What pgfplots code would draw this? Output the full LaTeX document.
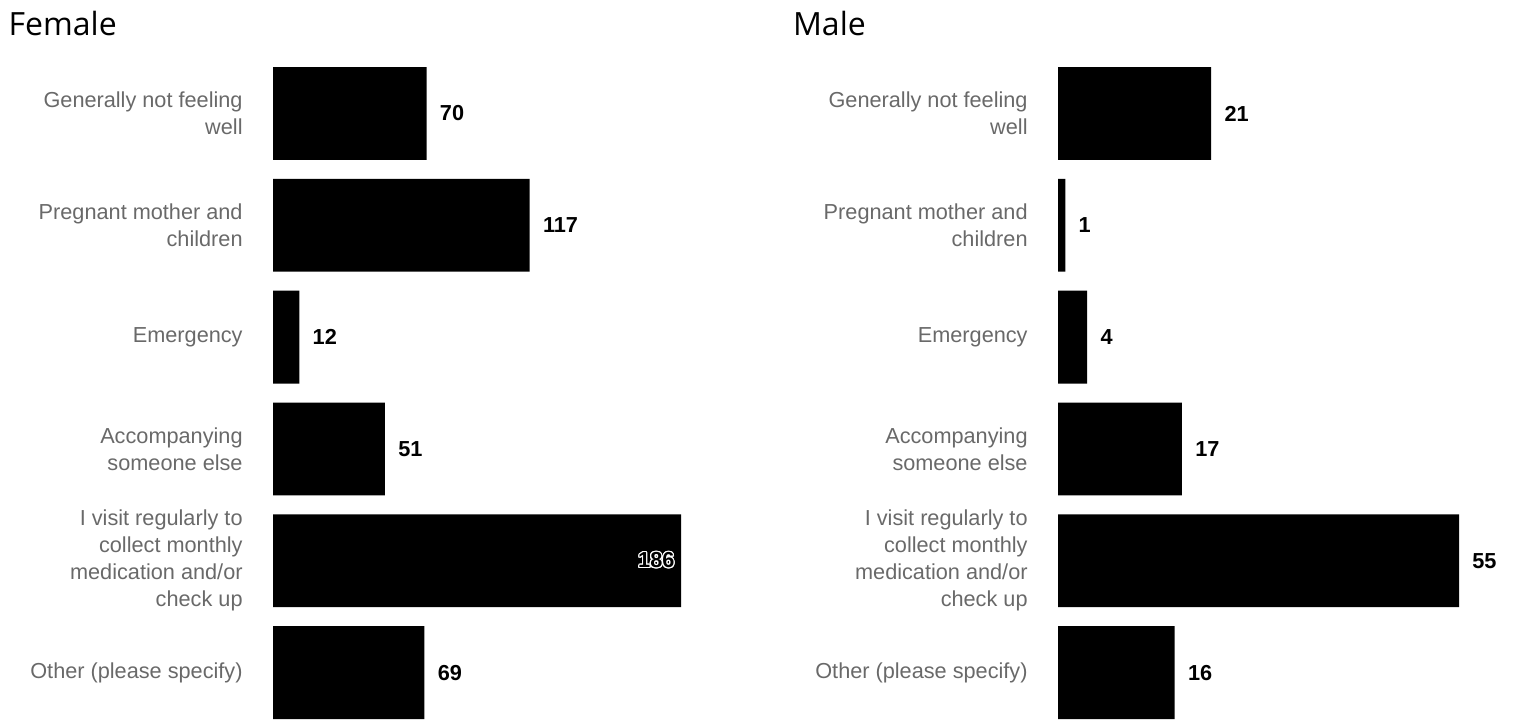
\documentclass[border=0pt]{standalone}
\usepackage{fontspec}
\setmainfont{Liberation Sans}
\newfontfamily\titlefont{Open Sans}
\usepackage{pgfplots}
\usepackage{pgfplotstable}
\usepackage{contour}
\pgfplotsset{compat=1.18}
\definecolor{labgray}{RGB}{105,105,105}
\contourlength{0.55pt}

% i = row, v = count, flag = 1 when the label sits inside the bar
\pgfplotstableread{
i v flag
0 70 0
1 117 0
2 12 0
3 51 0
4 186 1
5 69 0
}\female
\pgfplotstableread{
i v flag
0 21 0
1 1 0
2 4 0
3 17 0
4 55 0
5 16 0
}\male

\newcommand\catfont{\fontsize{10.85pt}{13.5pt}\selectfont}

\pgfplotsset{
  panel/.style={
    scale only axis, height=326pt, anchor=north west,
    xmin=0, ymin=-0.415, ymax=5.415, y dir=reverse,
    axis line style={draw=none}, xtick=\empty, ytick={0,...,5},
    major tick length=0pt, clip=false,
    yticklabels={{Generally not feeling\\well},{Pregnant mother and\\children},
      {Emergency},{Accompanying\\someone else},
      {I visit regularly to\\collect monthly\\medication and/or\\check up},
      {Other (please specify)}},
    yticklabel style={align=right, font=\catfont, text=labgray, inner sep=0pt, xshift=-15pt},
  },
  vals/.style={
    xbar, bar width=0.83, fill=black, draw=none,
    visualization depends on={\thisrow{flag} \as \inside},
    point meta=x,
    /pgf/number format/assume math mode=true,
    nodes near coords={\ifdim\inside pt>0.5pt
        \llap{\contour{white}{\pgfmathprintnumber{\pgfplotspointmeta}}\hspace{10.5pt}}%
      \else\pgfmathprintnumber{\pgfplotspointmeta}\fi},
    every node near coord/.append style={font=\catfont\bfseries, text=black,
      inner sep=0pt, anchor=west, xshift=6.5pt},
  },
}

\begin{document}
\begin{tikzpicture}
\useasboundingbox (0,0) rectangle (757pt,-360pt);
\node[anchor=base west, font=\titlefont\fontsize{16pt}{19pt}\selectfont] at (0.8pt,-17.5pt) {Female};
\node[anchor=base west, font=\titlefont\fontsize{16pt}{19pt}\selectfont] at (393pt,-17.5pt) {Male};

\begin{axis}[panel, at={(136.5pt,-33.5pt)}, width=204pt, xmax=186]
\addplot[vals] table[x=v, y=i] {\female};
\end{axis}

\begin{axis}[panel, at={(529pt,-33.5pt)}, width=200.5pt, xmax=55]
\addplot[vals] table[x=v, y=i] {\male};
\end{axis}
\end{tikzpicture}
\end{document}
